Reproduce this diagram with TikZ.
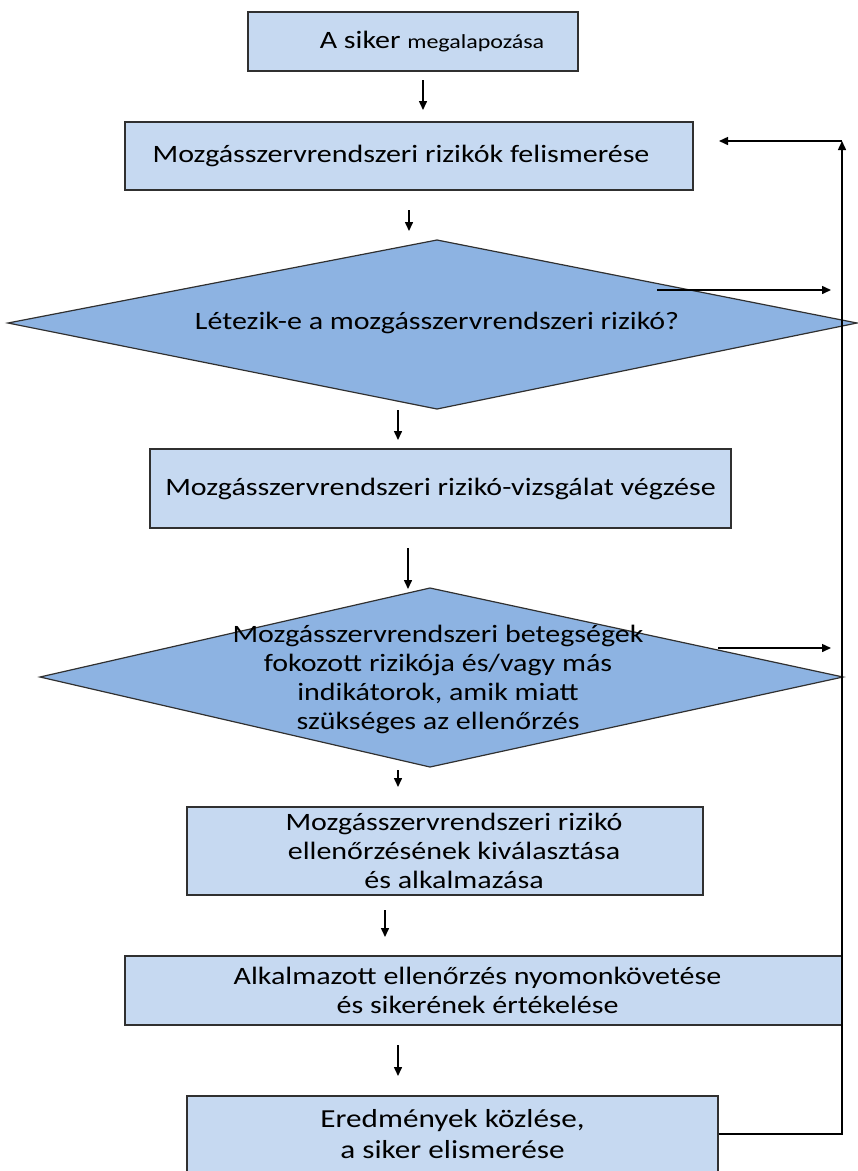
\documentclass[tikz,border=0pt]{standalone}
\usepackage{fontspec}
\setmainfont{Carlito}[FakeStretch=1.2]
\usetikzlibrary{arrows.meta}
\definecolor{boxfill}{HTML}{C6D9F1}
\definecolor{diafill}{HTML}{8DB3E2}
\definecolor{edge}{HTML}{303030}
\begin{document}
\begin{tikzpicture}[x=1pt,y=-1pt,
  box/.style={draw=edge, line width=1.2pt, fill=boxfill, align=center, inner sep=0pt,
              font=\fontsize{25}{29}\selectfont},
  dia/.style={draw=edge, line width=1.2pt, fill=diafill},
  lbl/.style={font=\fontsize{25}{29}\selectfont, align=center, inner sep=0pt},
  arr/.style={line width=1.5pt, -{Triangle[length=9pt,width=8pt]}}]
\clip (0,0) rectangle (858,1171);
% boxes
\node[box, minimum width=330pt, minimum height=59pt] (n1) at (413,41.5)
  {\hspace*{38pt}{\fontsize{25}{29}\selectfont A siker} {\fontsize{20}{29}\selectfont megalapozása}};
\node[box, minimum width=568pt, minimum height=68pt] (n2) at (409,156)
  {\hspace*{-16pt}Mozgásszervrendszeri rizikók felismerése};
% diamond 1
\coordinate (d1w) at (8,323); \coordinate (d1n) at (437,240);
\coordinate (d1e) at (857,323); \coordinate (d1s) at (437,409);
\draw[dia] (d1w) -- (d1n) -- (d1e) -- (d1s) -- cycle;
\node[lbl] (d1) at (437,323) {Létezik-e a mozgásszervrendszeri rizikó?};
\node[box, minimum width=581pt, minimum height=79pt] (n3) at (440.5,488.5)
  {Mozgásszervrendszeri rizikó-vizsgálat végzése};
% diamond 2
\coordinate (d2w) at (40,677); \coordinate (d2n) at (430,588);
\coordinate (d2e) at (843,677); \coordinate (d2s) at (430,767);
\draw[dia] (d2w) -- (d2n) -- (d2e) -- (d2s) -- cycle;
\node[lbl] (d2) at (438,679) {Mozgásszervrendszeri betegségek\\fokozott rizikója és/vagy más\\indikátorok, amik miatt\\szükséges az ellenőrzés};
\node[box, minimum width=516pt, minimum height=88pt] (n4) at (445,851)
  {\hspace*{18pt}Mozgásszervrendszeri rizikó\\\hspace*{18pt}ellenőrzésének kiválasztása\\\hspace*{18pt}és alkalmazása};
\node[box, minimum width=717pt, minimum height=69pt] (n5) at (483.5,990.5)
  {\hspace*{-12pt}Alkalmazott ellenőrzés nyomonkövetése\\\hspace*{-12pt}és sikerének értékelése};
\node[box, minimum width=531pt, minimum height=76pt, font=\fontsize{26}{31}\selectfont] (n6) at (452.5,1134)
  {Eredmények közlése,\\a siker elismerése};
% down arrows
\coordinate (a1s) at (423,80);   \coordinate (a1e) at (423,110);
\coordinate (a2s) at (409,210);  \coordinate (a2e) at (409,231);
\coordinate (a3s) at (398,410);  \coordinate (a3e) at (398,440);
\coordinate (a4s) at (408,548);  \coordinate (a4e) at (408,589);
\coordinate (a5s) at (398,770);  \coordinate (a5e) at (398,787);
\coordinate (a6s) at (385,910);  \coordinate (a6e) at (385,937);
\coordinate (a7s) at (398,1045); \coordinate (a7e) at (398,1076);
\foreach \i in {1,...,7} \draw[arr] (a\i s) -- (a\i e);
% side arrows
\coordinate (s1s) at (657,290); \coordinate (s1e) at (831,290);
\coordinate (s2s) at (718,648); \coordinate (s2e) at (831,648);
\draw[arr] (s1s) -- (s1e);
\draw[arr] (s2s) -- (s2e);
% feedback loop
\coordinate (fb1) at (842,1134); \coordinate (fb2) at (842,141);
\coordinate (fb3) at (719,141);
\draw[arr] (n6.east) -- (fb1) -- (fb2);
\draw[arr] (fb2) -- (fb3);
\end{tikzpicture}
\end{document}
